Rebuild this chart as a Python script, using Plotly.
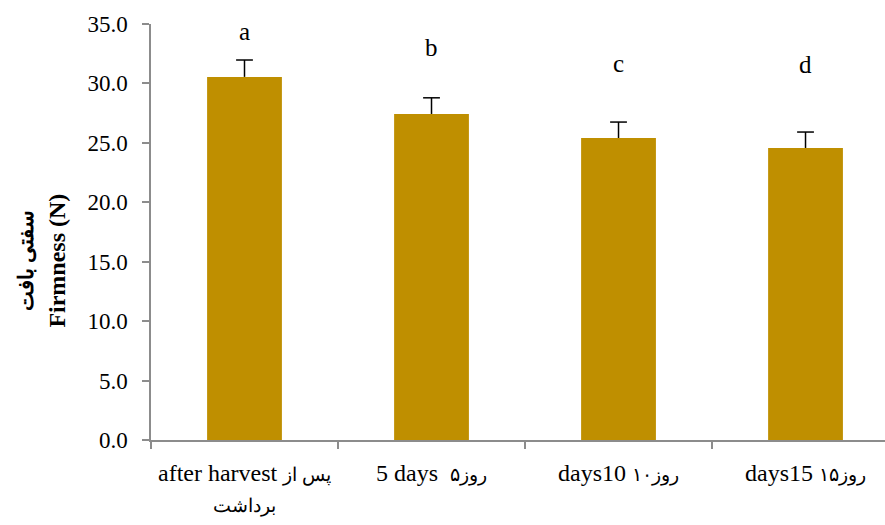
import plotly.graph_objects as go

fa = lambda s: '<span style="font-size:19px">' + s + '</span>'

categories = ["after harvest " + fa("پس از") + "<br>" + fa("برداشت"),
              "5 days  " + fa("روز۵"),
              "days10 " + fa("روز۱۰"),
              "days15 " + fa("روز۱۵")]
firmness = [30.55, 27.43, 25.41, 24.57]
errors = [1.42, 1.36, 1.34, 1.34]
letters = ["a", "b", "c", "d"]
letter_y = [33.05, 31.7, 30.4, 30.3]
y_ticks = [0, 5, 10, 15, 20, 25, 30, 35]

bar_color = "#BF8F00"
axis_color = "#8C8C8C"
serif = "Liberation Serif, Times New Roman, serif"

fig = go.Figure()
fig.add_trace(go.Bar(
    x=categories, y=firmness,
    marker=dict(color=bar_color, line=dict(width=0)),
    width=0.4,
    showlegend=False,
))
# upward-only error bars: stem from bar top to top value, cap at top
tops = [v + e for v, e in zip(firmness, errors)]
fig.add_trace(go.Scatter(
    x=categories, y=tops, mode="markers",
    marker=dict(symbol="line-ew", size=12, line=dict(color="black", width=1.5), color="black"),
    error_y=dict(type="data", symmetric=False, array=[0] * len(errors), arrayminus=errors,
                 color="black", thickness=1.5, width=0),
    showlegend=False, hoverinfo="skip",
))

for c, l, ly in zip(categories, letters, letter_y):
    fig.add_annotation(x=c, y=ly, text=l, showarrow=False, yanchor="bottom",
                       font=dict(family=serif, size=25, color="black"))

fig.add_annotation(xref="paper", yref="paper", x=0, y=0.43,
                   xanchor="right", yanchor="middle", xshift=-80,
                   text='<b><span style="font-size:21px">سفتی بافت</span><br>Firmness (N)</b>',
                   textangle=-90, showarrow=False,
                   font=dict(family=serif, size=24, color="black"))

fig.update_layout(
    width=885, height=525,
    margin=dict(l=151, r=0, t=24, b=85, autoexpand=False),
    plot_bgcolor="white", paper_bgcolor="white",
    font=dict(family=serif, size=23, color="black"),
)
fig.update_xaxes(
    range=[-0.5, 3.425], showline=True, linecolor=axis_color, linewidth=1.5,
    ticks="outside", tickson="boundaries", ticklen=7, tickcolor=axis_color, tickwidth=1.5,
    showgrid=False, tickfont=dict(family=serif, size=24, color="black"),
    ticklabelstandoff=10, tickangle=0, automargin=False,
)
fig.update_yaxes(
    range=[0, 35], tickvals=y_ticks, tickformat=".1f", showline=True,
    linecolor=axis_color, linewidth=1.5, ticks="outside", ticklen=7,
    tickcolor=axis_color, tickwidth=1.5, showgrid=False, zeroline=False,
    tickfont=dict(family=serif, size=23, color="black"), ticklabelstandoff=10,
    automargin=False,
)

fig.write_html("out.html")
